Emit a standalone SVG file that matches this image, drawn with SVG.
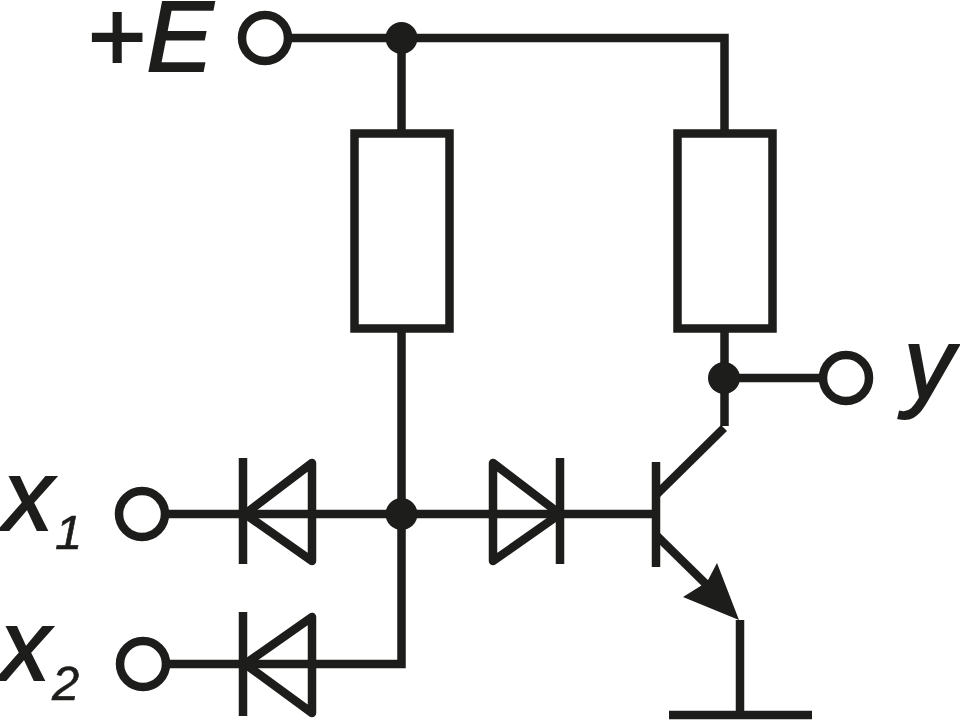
<svg xmlns="http://www.w3.org/2000/svg" width="960" height="720" viewBox="0 0 960 720">
<style>
.w{fill:none;stroke:#1d1d1b;stroke-width:8.5;stroke-linejoin:miter}
.t{fill:#fff;stroke:#1d1d1b;stroke-width:8.5}
.r{fill:#fff;stroke:#1d1d1b;stroke-width:8.5}
.d{fill:none;stroke:#1d1d1b;stroke-width:8.5;stroke-linejoin:round}
.j{fill:#1d1d1b}
text{font-family:"Liberation Sans",Arial,sans-serif;fill:#1d1d1b;stroke:#1d1d1b;stroke-width:2;font-size:100px}
.i{font-style:italic}
.s{font-style:italic;font-size:49px;stroke-width:.6}
</style>
<rect width="960" height="720" fill="#fff"/>
<g id="connectors">
<path class="w" d="M288 38H724.5V130"/>
<path class="w" d="M401.5 38V130"/>
<path class="w" d="M401.5 332V664H168"/>
<path class="w" d="M168 514H656"/>
<path class="w" d="M724.5 332V426"/>
<path class="w" d="M724 378H820"/>
<path class="w" d="M657 494L724 428"/>
<path class="w" d="M657 536L712 590"/>
<path class="w" d="M740 620V715"/>
</g>
<g id="terminal-e"><circle class="t" cx="265" cy="38" r="23"/><text x="88" y="71">+<tspan class="i">E</tspan></text></g>
<g id="terminal-x1"><circle class="t" cx="142" cy="514" r="23"/><text class="i" x="3" y="530">x</text><text class="s" x="55" y="549">1</text></g>
<g id="terminal-x2"><circle class="t" cx="143" cy="664" r="23"/><text class="i" x="0" y="680">x</text><text class="s" x="52" y="700">2</text></g>
<g id="terminal-y"><circle class="t" cx="846" cy="378" r="23"/><text class="i" x="904" y="398">y</text></g>
<g id="r1"><rect class="r" x="354.5" y="133.5" width="95" height="195"/></g>
<g id="r2"><rect class="r" x="677.5" y="133.5" width="95" height="195"/></g>
<g id="junction-top"><circle class="j" cx="401.5" cy="38" r="16"/></g>
<g id="junction-mid"><circle class="j" cx="401.5" cy="514" r="16"/></g>
<g id="junction-out"><circle class="j" cx="724" cy="378" r="16"/></g>
<g id="d1"><path class="w" d="M243 458V564"/><path class="d" d="M312 463V561L245 514Z"/></g>
<g id="d2"><path class="w" d="M243 612V716"/><path class="d" d="M312 617V713L245 664Z"/></g>
<g id="d3"><path class="w" d="M560 458V564"/><path class="d" d="M493 463V561L560 514Z"/></g>
<g id="transistor"><path class="w" d="M656 462V567"/><path class="j" d="M739 620L717 563L707 582L683 597Z"/></g>
<g id="ground"><path class="w" d="M669 715H812"/></g>
</svg>
